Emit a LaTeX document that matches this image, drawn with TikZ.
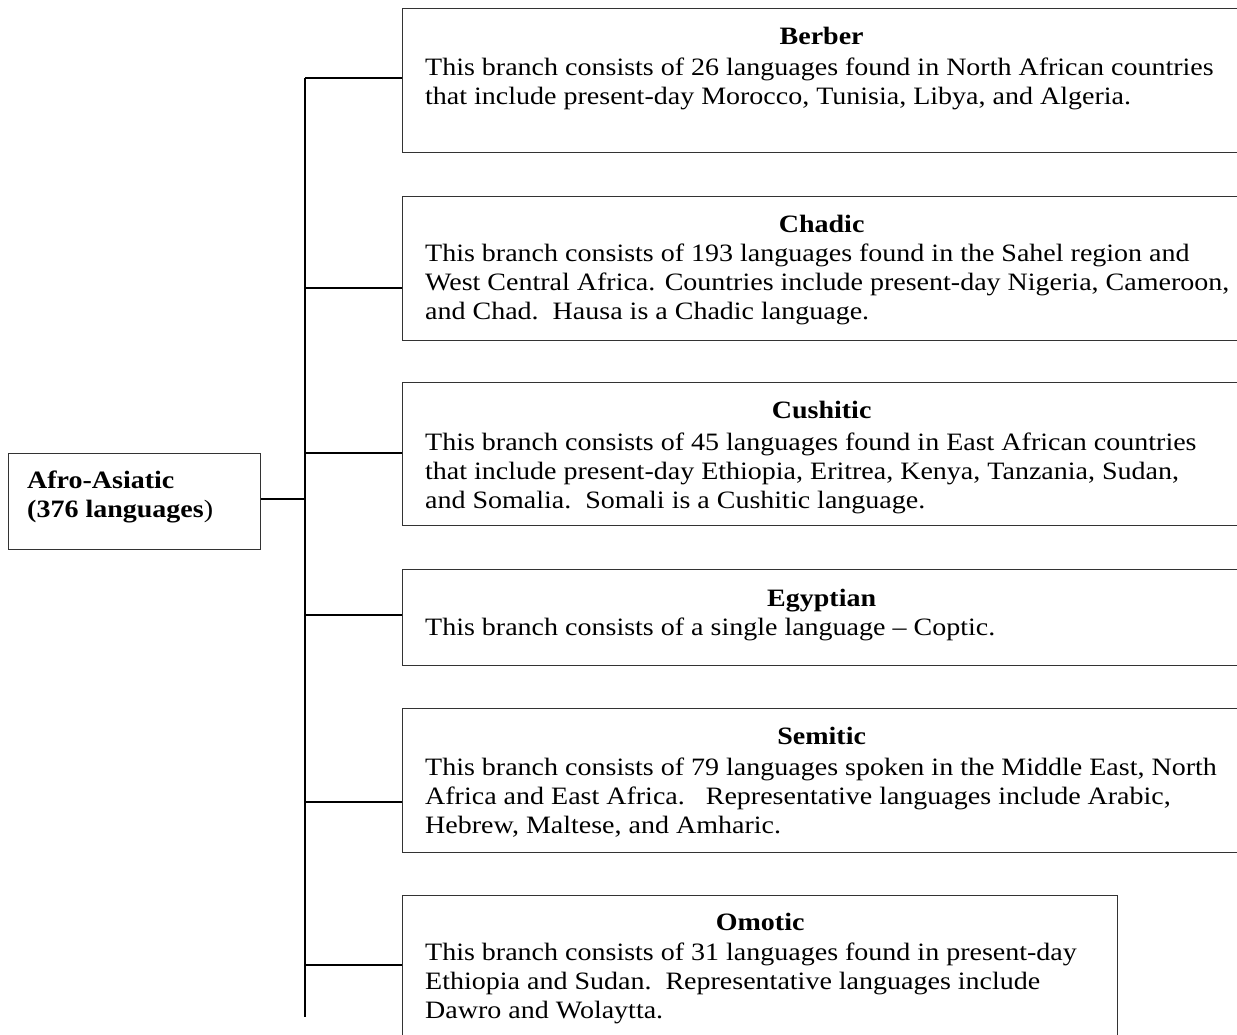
\documentclass[tikz,border=0pt]{standalone}
\usepackage{fontspec}
\setmainfont[FakeStretch=1.12]{Liberation Serif}
\begin{document}
\begin{tikzpicture}[x=1pt,y=-1pt,
  conn/.style={line width=2.3pt, draw=black},
  boxline/.style={draw=black!80, line width=1.3pt, rectangle, inner sep=0, anchor=north west},
  ttl/.style={font=\fontsize{25}{29}\selectfont\bfseries, anchor=base, inner sep=0},
  bodytext/.style={font=\fontsize{25}{29}\selectfont, anchor=north west, align=left, inner sep=0},
]
\useasboundingbox (0,0) rectangle (1237,1034);
\clip (0,0) rectangle (1237,1034);

% root box
\node[boxline, minimum width=252pt, minimum height=96pt] (root) at (8,453) {};
\node[bodytext] (roottxt) at (27,467.7) {\strut\textbf{Afro-Asiatic}\\\textbf{(376 languages})};

% branch boxes
\node[boxline, minimum width=838pt, minimum height=144pt] (berber) at (402,8) {};
\node[boxline, minimum width=838pt, minimum height=144pt] (chadic) at (402,196) {};
\node[boxline, minimum width=838pt, minimum height=143pt] (cushitic) at (402,382) {};
\node[boxline, minimum width=838pt, minimum height=96pt] (egyptian) at (402,569) {};
\node[boxline, minimum width=838pt, minimum height=144pt] (semitic) at (402,708) {};
\node[boxline, minimum width=715pt, minimum height=150pt] (omotic) at (402,895) {};

% titles
\node[ttl] (tB) at ([yshift=-36pt]berber.north) {Berber};
\node[ttl] (tC) at ([yshift=-36pt]chadic.north) {Chadic};
\node[ttl] (tCu) at ([yshift=-36pt]cushitic.north) {Cushitic};
\node[ttl] (tE) at ([yshift=-37pt]egyptian.north) {Egyptian};
\node[ttl] (tS) at ([yshift=-36pt]semitic.north) {Semitic};
\node[ttl] (tO) at ([yshift=-35pt]omotic.north) {Omotic};

% bodies
\node[bodytext] (bB) at ([xshift=23pt,yshift=-47pt]berber.north west) {\strut This branch consists of 26 languages found in North African countries\\that include present-day Morocco, Tunisia, Libya, and Algeria.};
\node[bodytext] (bC) at ([xshift=23pt,yshift=-45pt]chadic.north west) {\strut This branch consists of 193 languages found in the Sahel region and\\West Central Africa. Countries include present-day Nigeria, Cameroon,\\and Chad.\ \ Hausa is a Chadic language.};
\node[bodytext] (bCu) at ([xshift=23pt,yshift=-47.7pt]cushitic.north west) {\strut This branch consists of 45 languages found in East African countries\\that include present-day Ethiopia, Eritrea, Kenya, Tanzania, Sudan,\\and Somalia.\ \ Somali is a Cushitic language.};
\node[bodytext] (bE) at ([xshift=23pt,yshift=-46pt]egyptian.north west) {\strut This branch consists of a single language – Coptic.};
\node[bodytext] (bS) at ([xshift=23pt,yshift=-47pt]semitic.north west) {\strut This branch consists of 79 languages spoken in the Middle East, North\\Africa and East Africa.\ \ \ Representative languages include Arabic,\\Hebrew, Maltese, and Amharic.};
\node[bodytext] (bO) at ([xshift=23pt,yshift=-45pt]omotic.north west) {\strut This branch consists of 31 languages found in present-day\\Ethiopia and Sudan.\ \ Representative languages include\\Dawro and Wolaytta.};

% trunk junctions
\coordinate (jB) at (305,78);
\coordinate (jC) at (305,288);
\coordinate (jCu) at (305,453);
\coordinate (jE) at (305,615);
\coordinate (jS) at (305,802);
\coordinate (jO) at (305,965);
\coordinate (jEnd) at (305,1017);
\coordinate (jR) at (305,499);

\draw[conn] (jB) -- (jEnd);
\draw[conn] (jR -| root.east) -- (jR);
\draw[conn] (jB) -- (jB -| berber.west);
\draw[conn] (jC) -- (jC -| chadic.west);
\draw[conn] (jCu) -- (jCu -| cushitic.west);
\draw[conn] (jE) -- (jE -| egyptian.west);
\draw[conn] (jS) -- (jS -| semitic.west);
\draw[conn] (jO) -- (jO -| omotic.west);
\end{tikzpicture}
\end{document}
